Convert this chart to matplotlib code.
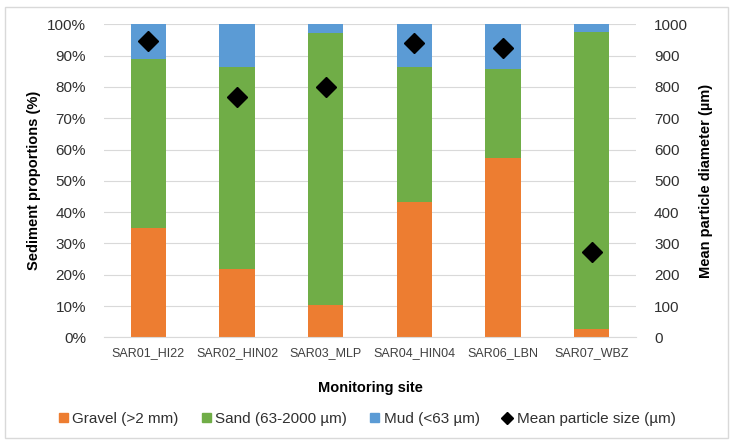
import numpy as np
import matplotlib.pyplot as plt
from matplotlib.patches import Rectangle
from matplotlib.lines import Line2D

plt.rcParams['font.family'] = ['Liberation Sans', 'DejaVu Sans']

sites = ['SAR01_HI22', 'SAR02_HIN02', 'SAR03_MLP', 'SAR04_HIN04', 'SAR06_LBN', 'SAR07_WBZ']
gravel = [34.8, 21.7, 10.3, 43.2, 57.4, 2.6]
sand = [54.0, 64.6, 87.0, 43.3, 28.3, 95.0]
mud = [11.2, 13.7, 2.7, 13.5, 14.3, 2.4]
mean_size = [947, 769, 799, 939, 923, 272]

c_gravel = '#ED7D31'
c_sand = '#70AD47'
c_mud = '#5B9BD5'
grid_c = '#D9D9D9'

fig = plt.figure(figsize=(7.34, 4.47), dpi=100)
ax = fig.add_axes([104 / 734, 1 - 337.3 / 447, 532 / 734, 313 / 447])

x = np.arange(len(sites))
w = 0.4
ax.bar(x, gravel, w, color=c_gravel, zorder=2)
ax.bar(x, sand, w, bottom=gravel, color=c_sand, zorder=2)
ax.bar(x, mud, w, bottom=np.array(gravel) + np.array(sand), color=c_mud, zorder=2)

ax.set_xlim(-0.5, len(sites) - 0.5)
ax.set_ylim(0, 100)
ax.set_yticks(np.arange(0, 101, 10))
ax.set_yticklabels([f'{v}%' for v in range(0, 101, 10)])
ax.set_xticks(x)
ax.set_xticklabels(sites, fontsize=9, color='#404040')
ax.tick_params(axis='y', length=0, pad=13, labelsize=11, labelcolor='#303030')
ax.tick_params(axis='x', length=0, pad=7)
ax.grid(axis='y', color=grid_c, linewidth=0.8, zorder=0)
for s in ['top', 'left', 'right']:
    ax.spines[s].set_visible(False)
ax.spines['bottom'].set_color(grid_c)
ax.set_ylabel('Sediment proportions (%)', fontsize=10.5, fontweight='bold', labelpad=4)
ax.set_xlabel('Monitoring site', fontsize=10.5, fontweight='bold', labelpad=16)

ax2 = ax.twinx()
ax2.plot(x, mean_size, linestyle='none', marker='D', ms=10, color='black', zorder=3)
ax2.set_ylim(0, 1000)
ax2.set_yticks(np.arange(0, 1001, 100))
ax2.tick_params(axis='y', length=0, pad=13, labelsize=11, labelcolor='#303030')
for s in ax2.spines.values():
    s.set_visible(False)
ax2.set_ylabel('Mean particle diameter (µm)', fontsize=10.5, fontweight='bold', labelpad=8)

handles = [
    Rectangle((0, 0), 1, 1, color=c_gravel),
    Rectangle((0, 0), 1, 1, color=c_sand),
    Rectangle((0, 0), 1, 1, color=c_mud),
    Line2D([], [], linestyle='none', marker='D', ms=6, color='black'),
]
labels = ['Gravel (>2 mm)', 'Sand (63-2000 µm)', 'Mud (<63 µm)', 'Mean particle size (µm)']
fig.legend(handles, labels, loc='center', bbox_to_anchor=(0.5, 1 - 419 / 447), ncol=4,
           frameon=False, fontsize=11, handlelength=0.6, handleheight=0.6,
           handletextpad=0.3, columnspacing=1.5, labelcolor='#303030')

fig.patches.append(Rectangle((5 / 734, 1 - 438 / 447), 723 / 734, 431 / 447,
                             transform=fig.transFigure, fill=False,
                             edgecolor=grid_c, linewidth=1))

fig.savefig('out.png', dpi=100)
